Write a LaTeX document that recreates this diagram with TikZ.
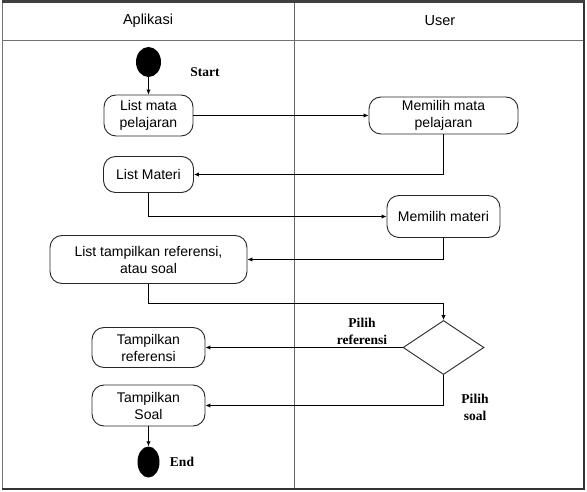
\documentclass[tikz,border=0pt]{standalone}
\usepackage{fontspec}
\setmainfont{Liberation Sans}
\newfontfamily\labelfont{Liberation Serif}
\usetikzlibrary{shapes.geometric,arrows.meta}

\tikzset{
  activity/.style = {draw=black!85, line width=0.9pt, rounded corners=12pt,
                     align=center, inner sep=2pt,
                     font=\fontsize{14}{17}\selectfont},
  decision/.style = {draw=black!85, line width=0.9pt, diamond, aspect=1.5,
                     minimum width=81pt, minimum height=54pt, inner sep=0pt},
  terminal/.style = {fill=black, ellipse, inner sep=0pt},
  flow/.style     = {line width=1pt, -{Latex[length=5pt,width=4.5pt]}},
  tag/.style      = {font=\labelfont\bfseries\fontsize{13.5}{17}\selectfont,
                     align=center, inner sep=0pt}
}

\begin{document}
\begin{tikzpicture}[x=1pt, y=-1pt]
  \useasboundingbox (0, 0) rectangle (587, 492);

  % Draws the swimlane frame
  \draw[black!55, line width=1pt] (2.5, 1.5) -- (2.5, 489);
  \draw[black!55, line width=1pt] (2.5, 40.5) -- (584, 40.5);
  \draw[black!60, line width=0.8pt] (294.5, 1.5) -- (294.5, 489);
  \draw[black!80, line width=1.6pt] (584, 1.5) -- (584, 489);
  \draw[black!80, line width=1.8pt] (2, 489) -- (585, 489);
  \draw[black!75, line width=2.2pt] (2, 1.5) -- (585, 1.5);
  \node (laneApp)  at (148, 20.5) {\fontsize{14.5}{17}\selectfont Aplikasi};
  \node (laneUser) at (440, 20.5) {\fontsize{14.5}{17}\selectfont User};

  % Draws the start and end points
  \node[terminal, minimum width=25pt, minimum height=30pt] (start) at (148.5, 62) {};
  \node[tag] (startTag) at (205, 72) {Start};
  \node[terminal, minimum width=22pt, minimum height=31pt] (stop) at (148.5, 462) {};
  \node[tag] (stopTag) at (182, 462) {End};

  % Draws the activities of both lanes
  \node[activity, minimum width=89pt, minimum height=41pt] (listMapel) at (148.5, 115.5) {List mata\\pelajaran};
  \node[activity, minimum width=149pt, minimum height=37pt] (pilihMapel) at (443.5, 115.5) {Memilih mata\\pelajaran};
  \node[activity, minimum width=90pt, minimum height=36pt] (listMateri) at (148.5, 174.5) {List Materi};
  \node[activity, minimum width=113pt, minimum height=42pt] (pilihMateri) at (443.5, 216.5) {Memilih materi};
  \node[activity, minimum width=197pt, minimum height=48pt] (listTampil) at (148.5, 259.5) {List tampilkan referensi,\\atau soal};
  \node[decision] (pilih) at (443.5, 347.5) {};
  \node[activity, minimum width=113pt, minimum height=40pt] (tampilRef) at (148.5, 347.5) {Tampilkan\\referensi};
  \node[activity, minimum width=113pt, minimum height=41pt] (tampilSoal) at (148.5, 405.5) {Tampilkan\\Soal};
  \coordinate (turn) at (443.5, 303.5);

  % Draws the control flow
  \draw[flow] (start) -- (listMapel);
  \draw[flow] (listMapel) -- (pilihMapel);
  \draw[flow] (pilihMapel.south) |- (listMateri.east);
  \draw[flow] (listMateri.south) |- (pilihMateri.west);
  \draw[flow] (pilihMateri.south) |- (listTampil.east);
  \draw[flow] (listTampil.south) |- (turn) -- (pilih.north);
  \draw[flow] (pilih.west) -- (tampilRef.east);
  \draw[flow] (pilih.south) |- (tampilSoal.east);
  \draw[flow] (tampilSoal) -- (stop);

  % Labels of the decision branches
  \node[tag] (tagRef)  at (362, 331) {Pilih\\referensi};
  \node[tag] (tagSoal) at (475, 407) {Pilih\\soal};
\end{tikzpicture}
\end{document}
